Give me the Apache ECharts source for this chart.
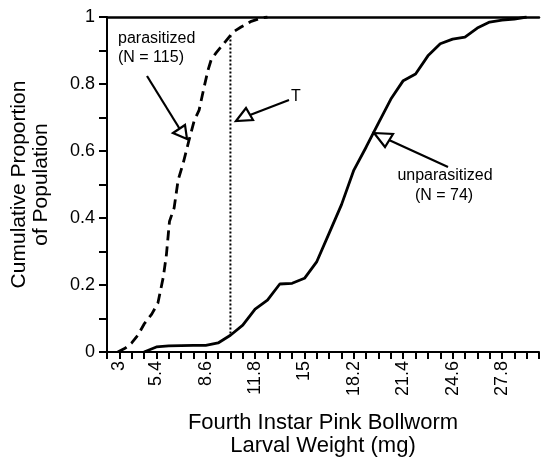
<!DOCTYPE html>
<html>
<head>
<meta charset="utf-8">
<script src="https://cdn.jsdelivr.net/npm/echarts@6/dist/echarts.min.js"></script>
<style>
  html, body { margin: 0; padding: 0; background: #fff; }
  #chart { width: 541px; height: 464px; }
</style>
</head>
<body>
<div id="chart"></div>
<script>
// ---- data ----
const xTickLabels = ['3', '5.4', '8.6', '11.8', '15', '18.2', '21.4', '24.6', '27.8'];
const xMin = 2.2, xMax = 30.2, xStep = 0.8;

const parasitizedX = [2.9, 3.4, 3.8, 4.2, 4.6, 5.1, 5.5, 5.85, 6.05, 6.17, 6.25, 6.55, 6.81, 7.14, 7.52, 7.85, 8.17, 8.49, 8.75, 8.95, 9.27, 9.79, 10.37, 10.89, 11.5, 12.18, 12.6];
const parasitizedY = [0, 0.012, 0.027, 0.05, 0.083, 0.113, 0.146, 0.224, 0.29, 0.35, 0.39, 0.43, 0.513, 0.564, 0.633, 0.69, 0.722, 0.79, 0.842, 0.872, 0.893, 0.922, 0.955, 0.97, 0.986, 0.997, 1.0];

const unparasitizedX = [4.6, 5.4, 6.2, 7.0, 7.8, 8.6, 9.4, 10.2, 11.0, 11.8, 12.6, 13.4, 14.2, 15.0, 15.8, 16.6, 17.4, 18.2, 19.0, 19.8, 20.6, 21.4, 22.2, 23.0, 23.8, 24.6, 25.4, 26.2, 27.0, 27.8, 28.6, 29.4];
const unparasitizedY = [0, 0.015, 0.018, 0.019, 0.02, 0.02, 0.027, 0.05, 0.08, 0.128, 0.155, 0.203, 0.205, 0.22, 0.27, 0.355, 0.44, 0.543, 0.612, 0.684, 0.755, 0.81, 0.83, 0.884, 0.92, 0.934, 0.94, 0.967, 0.985, 0.991, 0.994, 1.0];

const thresholdX = [10.2, 10.2];
const thresholdY = [0.055, 0.95];

// ---- build ----
const FONT = '"Liberation Sans", Arial, Helvetica, sans-serif';
const tickCats = [];
for (let i = 0; Math.round((xMin + i * xStep) * 10) <= Math.round(xMax * 10); i++) {
  tickCats.push((xMin + i * xStep).toFixed(1));
}
const labelSet = xTickLabels.map(Number);
const zip = (xs, ys) => xs.map((x, i) => [x, ys[i]]);

const chart = echarts.init(document.getElementById('chart'), null, { renderer: 'canvas' });
chart.setOption({
  animation: false,
  backgroundColor: '#fff',
  grid: { left: 106, top: 17, right: 2, bottom: 112, containLabel: false },
  xAxis: [
    {
      type: 'category', position: 'bottom', data: tickCats, boundaryGap: false,
      axisLine: { show: true, lineStyle: { color: '#000', width: 2 } },
      axisTick: { show: true, interval: 0, length: 7, lineStyle: { color: '#000', width: 2 } },
      axisLabel: {
        interval: 0, rotate: 90, margin: 9, color: '#000', fontSize: 18, fontFamily: FONT,
        formatter: v => (labelSet.indexOf(parseFloat(v)) >= 0 ? String(parseFloat(v)) : '')
      },
      splitLine: { show: false },
      name: 'Fourth Instar Pink Bollworm\nLarval Weight (mg)',
      nameLocation: 'middle', nameGap: 59,
      nameTextStyle: { color: '#000', fontSize: 22, lineHeight: 23, fontFamily: FONT }
    },
    {
      type: 'value', position: 'top', min: xMin, max: xMax,
      axisLine: { show: true, lineStyle: { color: '#000', width: 2.5 } },
      axisTick: { show: false }, axisLabel: { show: false }, splitLine: { show: false }
    }
  ],
  yAxis: {
    type: 'value', min: 0, max: 1, interval: 0.2,
    axisLine: { show: true, lineStyle: { color: '#000', width: 2 } },
    axisTick: { show: true, length: 8, lineStyle: { color: '#000', width: 2 } },
    minorTick: { show: true, splitNumber: 2, length: 8, lineStyle: { color: '#000', width: 2 } },
    axisLabel: { color: '#000', fontSize: 18, fontFamily: FONT, margin: 12 },
    splitLine: { show: false },
    name: 'Cumulative Proportion\nof Population',
    nameLocation: 'middle', nameGap: 55,
    nameTextStyle: { color: '#000', fontSize: 21, lineHeight: 22, fontFamily: FONT }
  },
  series: [
    {
      name: 'parasitized', type: 'line', xAxisIndex: 1, data: zip(parasitizedX, parasitizedY),
      showSymbol: false, lineStyle: { color: '#000', width: 2.8, type: [10, 6] }
    },
    {
      name: 'unparasitized', type: 'line', xAxisIndex: 1, data: zip(unparasitizedX, unparasitizedY),
      showSymbol: false, lineStyle: { color: '#000', width: 2.8 }
    },
    {
      name: 'T', type: 'line', xAxisIndex: 1, data: zip(thresholdX, thresholdY),
      showSymbol: false, lineStyle: { color: '#000', width: 2, type: [2, 2] }
    }
  ],
  graphic: [
    { type: 'text', style: { x: 118, y: 39, text: 'parasitized', font: '16px ' + FONT, fill: '#000', textAlign: 'left', textVerticalAlign: 'middle' } },
    { type: 'text', style: { x: 118, y: 58, text: '(N = 115)', font: '16px ' + FONT, fill: '#000', textAlign: 'left', textVerticalAlign: 'middle' } },
    { type: 'text', style: { x: 296, y: 97, text: 'T', font: '16px ' + FONT, fill: '#000', textAlign: 'center', textVerticalAlign: 'middle' } },
    { type: 'text', style: { x: 445, y: 176, text: 'unparasitized', font: '16px ' + FONT, fill: '#000', textAlign: 'center', textVerticalAlign: 'middle' } },
    { type: 'text', style: { x: 444, y: 196, text: '(N = 74)', font: '16px ' + FONT, fill: '#000', textAlign: 'center', textVerticalAlign: 'middle' } },
    { type: 'line', shape: { x1: 147, y1: 76, x2: 181, y2: 131 }, style: { stroke: '#000', lineWidth: 2.2 } },
    { type: 'polygon', shape: { points: [[173, 133], [185, 125], [187, 139]] }, style: { stroke: '#000', fill: '#fff', lineWidth: 2.2 } },
    { type: 'line', shape: { x1: 289, y1: 100, x2: 250, y2: 115 }, style: { stroke: '#000', lineWidth: 2.2 } },
    { type: 'polygon', shape: { points: [[236, 121], [246, 108], [253, 120]] }, style: { stroke: '#000', fill: '#fff', lineWidth: 2.2 } },
    { type: 'line', shape: { x1: 448, y1: 167, x2: 389, y2: 140 }, style: { stroke: '#000', lineWidth: 2.2 } },
    { type: 'polygon', shape: { points: [[374, 133], [393, 134], [385, 147]] }, style: { stroke: '#000', fill: '#fff', lineWidth: 2.2 } }
  ]
});
</script>
</body>
</html>
